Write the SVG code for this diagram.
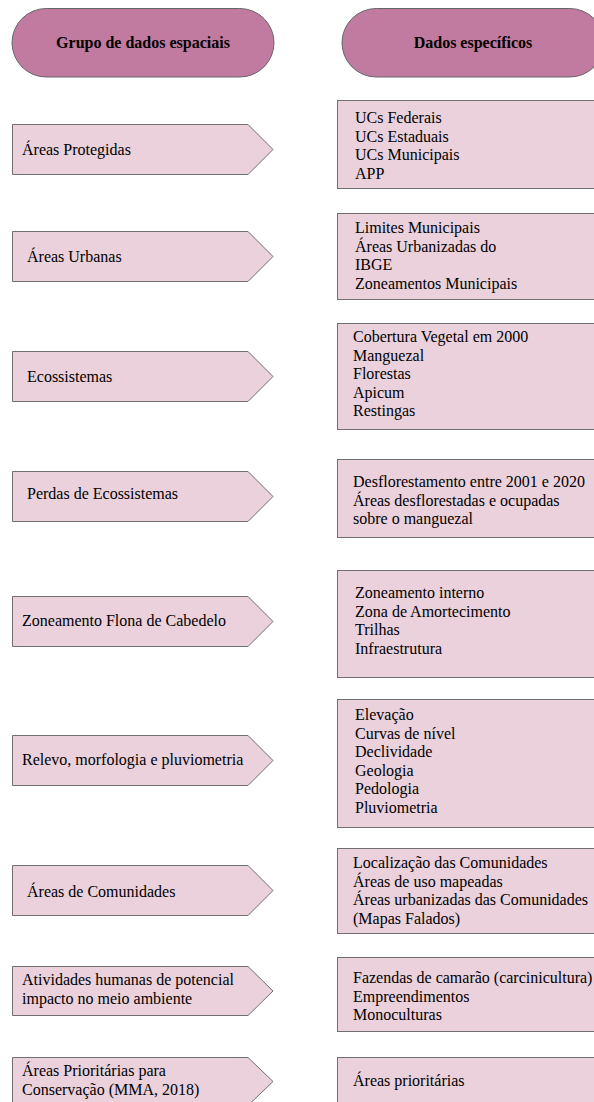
<svg xmlns="http://www.w3.org/2000/svg" width="594" height="1102" viewBox="0 0 594 1102">
<style>
.hdr{fill:#c27ba0;stroke:#666666;stroke-width:1}
.box{fill:#ead1dc;stroke:#6f6f6f;stroke-width:1}
text{font-family:"Liberation Serif","Times New Roman",serif;font-size:16px;fill:#000}
.b{font-weight:bold;text-anchor:middle}
</style>
<rect width="594" height="1102" fill="#ffffff"/>
<g id="hdr-left"><rect class="hdr" x="12" y="8.5" width="262" height="68.5" rx="34.25"/><text class="b" x="143" y="48">Grupo de dados espaciais</text></g>
<g id="hdr-right"><rect class="hdr" x="342" y="8.5" width="262" height="68.5" rx="34.25"/><text class="b" x="473" y="48">Dados específicos</text></g>

<g id="connectors"></g>

<g id="g1"><path class="box" d="M12.5,124.5H248L273,149.5L248,174.5H12.5Z"/><text x="22" y="155">Áreas Protegidas</text></g>
<g id="d1"><rect class="box" x="337.5" y="100.5" width="270" height="88"/><text x="355" y="123">UCs Federais</text><text x="355" y="141.5">UCs Estaduais</text><text x="355" y="160">UCs Municipais</text><text x="355" y="178.5">APP</text></g>

<g id="g2"><path class="box" d="M12.5,231.5H248L273,256.5L248,281.5H12.5Z"/><text x="27" y="262">Áreas Urbanas</text></g>
<g id="d2"><rect class="box" x="337.5" y="213.5" width="270" height="86"/><text x="355" y="233">Limites Municipais</text><text x="355" y="251.5">Áreas Urbanizadas do</text><text x="355" y="270">IBGE</text><text x="355" y="288.5">Zoneamentos Municipais</text></g>

<g id="g3"><path class="box" d="M12.5,351.5H248L273,376.5L248,401.5H12.5Z"/><text x="27" y="382">Ecossistemas</text></g>
<g id="d3"><rect class="box" x="337.5" y="323.5" width="270" height="106"/><text x="353" y="342">Cobertura Vegetal em 2000</text><text x="353" y="360.5">Manguezal</text><text x="353" y="379">Florestas</text><text x="353" y="397.5">Apicum</text><text x="353" y="416">Restingas</text></g>

<g id="g4"><path class="box" d="M12.5,471.5H248L273,496.5L248,521.5H12.5Z"/><text x="27" y="499">Perdas de Ecossistemas</text></g>
<g id="d4"><rect class="box" x="337.5" y="459.5" width="270" height="78"/><text x="353" y="487">Desflorestamento entre 2001 e 2020</text><text x="353" y="505.5">Áreas desflorestadas e ocupadas</text><text x="353" y="524">sobre o manguezal</text></g>

<g id="g5"><path class="box" d="M12.5,596.5H248L273,621.5L248,646.5H12.5Z"/><text x="22" y="626">Zoneamento Flona de Cabedelo</text></g>
<g id="d5"><rect class="box" x="337.5" y="570.5" width="270" height="107"/><text x="355" y="598">Zoneamento interno</text><text x="355" y="616.5">Zona de Amortecimento</text><text x="355" y="635">Trilhas</text><text x="355" y="653.5">Infraestrutura</text></g>

<g id="g6"><path class="box" d="M12.5,735.5H248L273,760.5L248,785.5H12.5Z"/><text x="22" y="765">Relevo, morfologia e pluviometria</text></g>
<g id="d6"><rect class="box" x="337.5" y="699.5" width="270" height="128"/><text x="355" y="720">Elevação</text><text x="355" y="738.5">Curvas de nível</text><text x="355" y="757">Declividade</text><text x="355" y="775.5">Geologia</text><text x="355" y="794">Pedologia</text><text x="355" y="812.5">Pluviometria</text></g>

<g id="g7"><path class="box" d="M12.5,865.5H248L273,890.5L248,915.5H12.5Z"/><text x="27" y="897">Áreas de Comunidades</text></g>
<g id="d7"><rect class="box" x="337.5" y="848.5" width="270" height="85"/><text x="353" y="868">Localização das Comunidades</text><text x="353" y="886.5">Áreas de uso mapeadas</text><text x="353" y="905">Áreas urbanizadas das Comunidades</text><text x="353" y="923.5">(Mapas Falados)</text></g>

<g id="g8"><path class="box" d="M12.5,966.5H248L273,991L248,1015.5H12.5Z"/><text x="22" y="985">Atividades humanas de potencial</text><text x="22" y="1003.5">impacto no meio ambiente</text></g>
<g id="d8"><rect class="box" x="337.5" y="957.5" width="270" height="74"/><text x="353" y="983">Fazendas de camarão (carcinicultura)</text><text x="353" y="1001.5">Empreendimentos</text><text x="353" y="1020">Monoculturas</text></g>

<g id="g9"><path class="box" d="M12.5,1057.5H248L273,1081.5L248,1105.5H12.5Z"/><text x="22" y="1076">Áreas Prioritárias para</text><text x="22" y="1094.5">Conservação (MMA, 2018)</text></g>
<g id="d9"><rect class="box" x="337.5" y="1057.5" width="270" height="60"/><text x="353" y="1086">Áreas prioritárias</text></g>
</svg>
